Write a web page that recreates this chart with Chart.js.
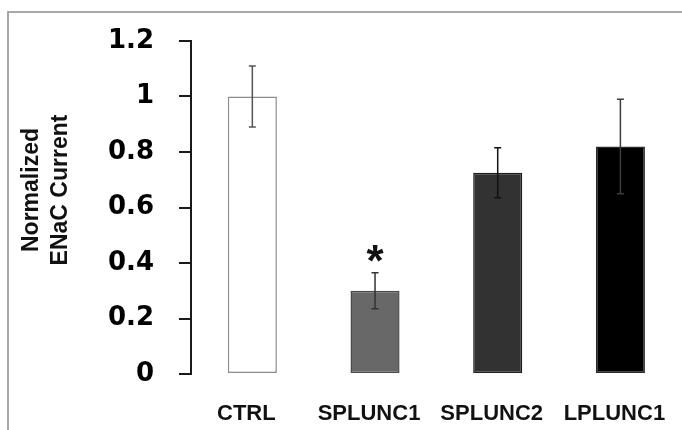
<!DOCTYPE html>
<html>
<head>
<meta charset="utf-8">
<script src="https://cdn.jsdelivr.net/npm/chart.js@4"></script>
<style>
    html, body { margin: 0; padding: 0; background: #fff; overflow: hidden; width: 682px; height: 430px; }
    #frame { position: absolute; left: 7px; top: 11px; width: 700px; height: 430px; border-top: 2px solid #a8a8a8; border-left: 2px solid #a8a8a8; }
    #wrap { position: absolute; left: 0; top: 0; width: 700px; height: 430px; }
</style>
</head>
<body>
<div id="frame"></div>
<div id="wrap"><canvas id="enacChart"></canvas></div>
<script>
const categories = ['CTRL', 'SPLUNC1', 'SPLUNC2', 'LPLUNC1'];
const currentValues = [1.0, 0.30, 0.725, 0.82];
const errorValues = [0.11, 0.065, 0.09, 0.17];
const sigMarks = ['', '*', '', ''];
const yTicks = [0, 0.2, 0.4, 0.6, 0.8, 1.0, 1.2];
const yTickLabels = ['0', '0.2', '0.4', '0.6', '0.8', '1', '1.2'];
const yTitleLines = ['Normalized', 'ENaC Current'];

const barFills = ['#ffffff', '#686868', '#323232', '#000000'];
const barBorders = ['#8c8c8c', '#4a4a4a', '#1e1e1e', '#2a2a2a'];
const errorColors = ['#555555', '#333333', '#111111', '#3c3c3c'];

// error bars + significance star, drawn over the bars
const errorBarPlugin = {
    id: 'errorBars',
    afterDatasetsDraw(chart) {
        const { ctx, scales: { y } } = chart;
        const meta = chart.getDatasetMeta(0);
        ctx.save();
        meta.data.forEach((bar, i) => {
            const top = y.getPixelForValue(currentValues[i] + errorValues[i]);
            const bottom = y.getPixelForValue(currentValues[i] - errorValues[i]);
            ctx.strokeStyle = errorColors[i];
            ctx.lineWidth = 1.5;
            ctx.beginPath();
            ctx.moveTo(bar.x, top); ctx.lineTo(bar.x, bottom);
            ctx.moveTo(bar.x - 3.5, top); ctx.lineTo(bar.x + 3.5, top);
            ctx.moveTo(bar.x - 3.5, bottom); ctx.lineTo(bar.x + 3.5, bottom);
            ctx.stroke();

            if (sigMarks[i]) {
                ctx.font = 'bold 44px "Liberation Sans"';
                ctx.fillStyle = '#111';
                ctx.textAlign = 'center';
                ctx.textBaseline = 'alphabetic';
                const m = ctx.measureText(sigMarks[i]);
                const cy = top - 19;
                const base = cy + (m.actualBoundingBoxAscent - m.actualBoundingBoxDescent) / 2;
                ctx.fillText(sigMarks[i], bar.x, base);
            }
        });
        ctx.restore();
    }
};

// two-line rotated y title
const yTitlePlugin = {
    id: 'yTitle',
    afterDraw(chart) {
        const { ctx } = chart;
        ctx.save();
        ctx.translate(46.5, 190);
        ctx.rotate(-Math.PI / 2);
        ctx.font = 'bold 23px "Liberation Sans"';
        ctx.fillStyle = '#111';
        ctx.textAlign = 'center';
        ctx.textBaseline = 'middle';
        ctx.fillText(yTitleLines[0], 0, -14.5);
        ctx.fillText(yTitleLines[1], 0, 14.5);
        ctx.restore();
    }
};

new Chart(document.getElementById('enacChart'), {
    type: 'bar',
    data: {
        labels: categories,
        datasets: [{
            data: currentValues,
            backgroundColor: barFills,
            borderColor: barBorders,
            borderWidth: 1.5,
            borderSkipped: false,
            barPercentage: 0.4,
            categoryPercentage: 1.0
        }]
    },
    options: {
        responsive: true,
        maintainAspectRatio: false,
        animation: false,
        devicePixelRatio: 1,
        layout: { padding: { top: 41, right: 15, left: 0, bottom: 0 } },
        scales: {
            y: {
                min: 0,
                max: 1.2,
                afterFit: s => { s.width = 191; },
                afterBuildTicks: s => { s.ticks = yTicks.map(v => ({ value: v })); },
                border: { display: true, color: '#1a1a1a', width: 2 },
                grid: { drawOnChartArea: false, drawTicks: true, tickLength: 12, color: '#1a1a1a', lineWidth: 2 },
                ticks: {
                    padding: 25,
                    color: '#000',
                    font: { family: '"DejaVu Sans"', size: 26, weight: 'bold' },
                    callback: (v, i) => yTickLabels[i]
                }
            },
            x: {
                afterFit: s => { s.height = 56; },
                border: { display: false },
                grid: { display: false, drawTicks: false },
                ticks: {
                    padding: 27,
                    labelOffset: -6,
                    color: '#111',
                    font: { family: '"Liberation Sans"', size: 22, weight: 'bold' }
                }
            }
        },
        plugins: {
            legend: { display: false },
            tooltip: { enabled: false }
        }
    },
    plugins: [errorBarPlugin, yTitlePlugin]
});
</script>
</body>
</html>
